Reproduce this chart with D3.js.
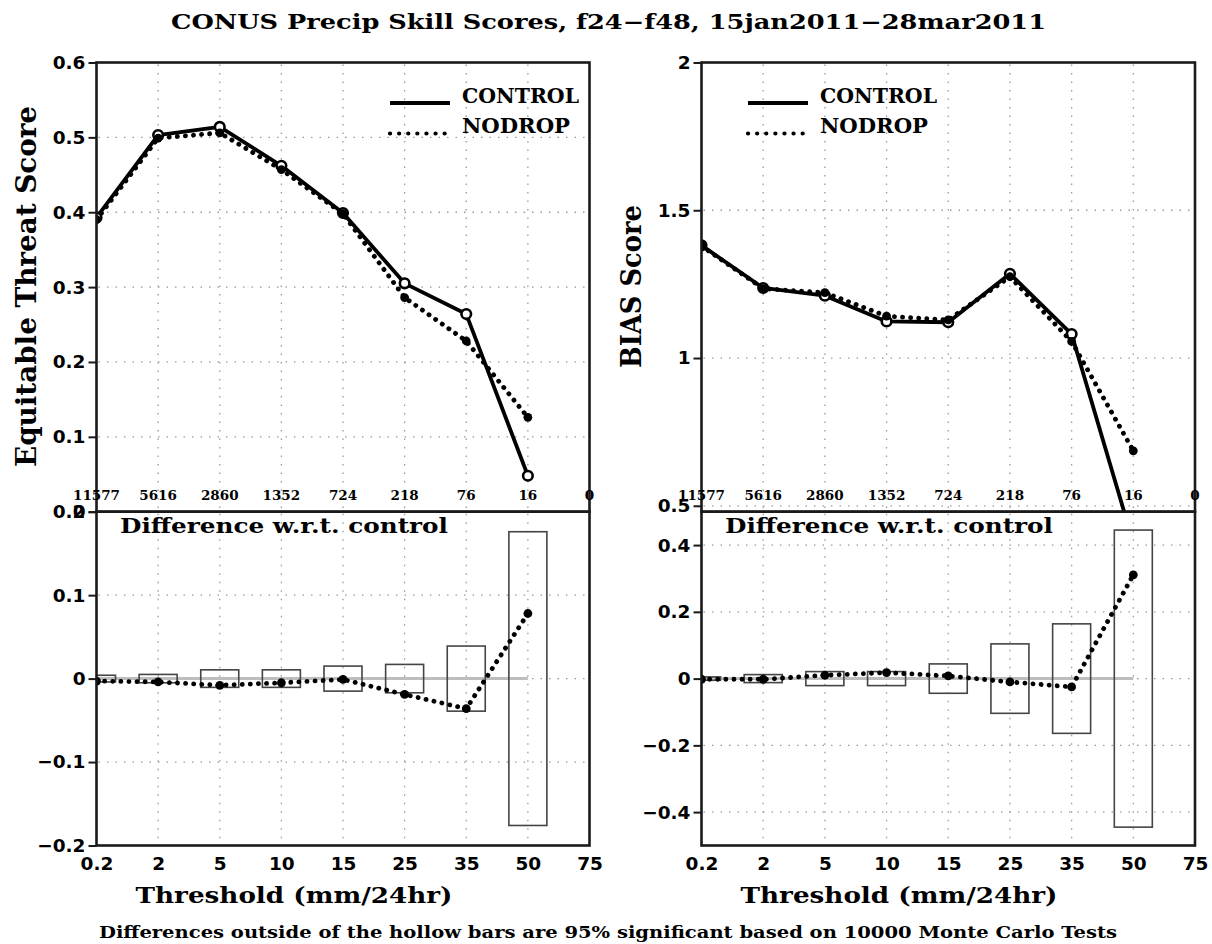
<!DOCTYPE html>
<html>
<head>
<meta charset="utf-8">
<script src="https://cdn.jsdelivr.net/npm/d3@7"></script>
<style>
body { margin: 0; background: #fff; }
svg { display: block; }
</style>
</head>
<body>
<div id="chart"></div>
<script>
const width = 1212;
const height = 944;

// thresholds (mm/24hr) and number of observed points at each one
const thresholds = ["0.2", "2", "5", "10", "15", "25", "35", "50", "75"];
const counts = ["11577", "5616", "2860", "1352", "724", "218", "76", "16", "0"];

// Equitable threat score
const etsControl = [0.393, 0.503, 0.514, 0.462, 0.399, 0.305, 0.264, 0.048];
const etsNodrop = [0.390, 0.499, 0.506, 0.457, 0.398, 0.286, 0.228, 0.126];
const etsDiff = [-0.003, -0.004, -0.008, -0.005, -0.001, -0.019, -0.036, 0.078];
const etsBar = [0.004, 0.005, 0.0105, 0.0105, 0.015, 0.017, 0.039, 0.176];

// Bias score
const biasControl = [1.381, 1.237, 1.211, 1.124, 1.121, 1.285, 1.081, 0.375];
const biasNodrop = [1.379, 1.235, 1.221, 1.142, 1.129, 1.275, 1.056, 0.686];
const biasDiff = [-0.002, -0.002, 0.010, 0.018, 0.008, -0.010, -0.025, 0.311];
const biasBar = [0.005, 0.012, 0.021, 0.021, 0.044, 0.104, 0.164, 0.445];

const etsTopTicks = [0.6, 0.5, 0.4, 0.3, 0.2, 0.1, 0];
const etsBotTicks = [0.2, 0.1, 0, -0.1, -0.2];
const biasTopTicks = [2, 1.5, 1, 0.5];
const biasBotTicks = [0.4, 0.2, 0, -0.2, -0.4];

const seriesNames = ["CONTROL", "NODROP"];

const serif = "'DejaVu Serif', serif";
const sans = "'DejaVu Sans', sans-serif";

const topY0 = 62.5, topY1 = 511.7, botY1 = 845.5;

const svg = d3.select("#chart").append("svg")
    .attr("width", width)
    .attr("height", height);

const fmt = d => d === 0 ? "0" : String(d).replace("-", "\u2212");

function drawPanels(p) {
    const x = d3.scalePoint().domain(thresholds).range([p.x0, p.x1]);
    const yTop = d3.scaleLinear().domain(p.topDomain).range([topY1, topY0]);
    const yBot = d3.scaleLinear().domain(p.botDomain).range([botY1, topY1]);
    const xi = (d, i) => x(thresholds[i]);

    const g = svg.append("g");

    // clip paths for both panels
    const defs = svg.append("defs");
    defs.append("clipPath").attr("id", p.id + "Top")
        .append("rect").attr("x", p.x0).attr("y", topY0).attr("width", p.x1 - p.x0).attr("height", topY1 - topY0);
    defs.append("clipPath").attr("id", p.id + "Bot")
        .append("rect").attr("x", p.x0).attr("y", topY1).attr("width", p.x1 - p.x0).attr("height", botY1 - topY1);

    // grid
    const grid = g.append("g")
        .attr("stroke", "#9a9a9a")
        .attr("stroke-width", 1.3)
        .attr("stroke-dasharray", "1.5,7");
    const inner = thresholds.slice(1, -1);
    grid.selectAll(".vt").data(inner).enter().append("line")
        .attr("x1", d => x(d)).attr("x2", d => x(d))
        .attr("y1", topY0 + 2).attr("y2", topY1 - 2);
    grid.selectAll(".vb").data(inner).enter().append("line")
        .attr("x1", d => x(d)).attr("x2", d => x(d))
        .attr("y1", topY1 + 2).attr("y2", botY1 - 2);
    grid.selectAll(".ht").data(p.topTicks.filter(t => yTop(t) > topY0 + 2 && yTop(t) < topY1 - 2)).enter().append("line")
        .attr("x1", p.x0 + 2).attr("x2", p.x1 - 2)
        .attr("y1", d => yTop(d)).attr("y2", d => yTop(d));
    grid.selectAll(".hb").data(p.botTicks.filter(t => yBot(t) > topY1 + 2 && yBot(t) < botY1 - 2)).enter().append("line")
        .attr("x1", p.x0 + 2).attr("x2", p.x1 - 2)
        .attr("y1", d => yBot(d)).attr("y2", d => yBot(d));

    // top panel lines
    const top = g.append("g").attr("clip-path", `url(#${p.id}Top)`);
    const line = d3.line().x(xi).y(d => yTop(d));

    top.append("path")
        .attr("d", line(p.control))
        .attr("fill", "none")
        .attr("stroke", "#000")
        .attr("stroke-width", 3.8)
        .attr("stroke-linejoin", "round");
    top.selectAll(".oc").data(p.control).enter().append("circle")
        .attr("cx", xi).attr("cy", d => yTop(d))
        .attr("r", 4.8)
        .attr("fill", "#fff")
        .attr("stroke", "#000")
        .attr("stroke-width", 2.6);
    top.append("path")
        .attr("d", line(p.nodrop))
        .attr("fill", "none")
        .attr("stroke", "#000")
        .attr("stroke-width", 4.8)
        .attr("stroke-linecap", "round")
        .attr("stroke-dasharray", "0.1,8");
    top.selectAll(".fc").data(p.nodrop).enter().append("circle")
        .attr("cx", xi).attr("cy", d => yTop(d))
        .attr("r", 4.4)
        .attr("fill", "#000");

    // bottom panel: zero line, hollow bars, difference
    const bot = g.append("g").attr("clip-path", `url(#${p.id}Bot)`);
    const barW = 38;
    bot.append("line")
        .attr("x1", x(thresholds[0])).attr("x2", x(thresholds[7]))
        .attr("y1", yBot(0)).attr("y2", yBot(0))
        .attr("stroke", "#bdbdbd")
        .attr("stroke-width", 3);
    bot.selectAll(".bar").data(p.bars).enter().append("rect")
        .attr("x", (d, i) => xi(d, i) - barW / 2)
        .attr("y", d => yBot(d))
        .attr("width", barW)
        .attr("height", d => yBot(-d) - yBot(d))
        .attr("fill", "none")
        .attr("stroke", "#444")
        .attr("stroke-width", 1.6);
    bot.append("path")
        .attr("d", d3.line().x(xi).y(d => yBot(d))(p.diff))
        .attr("fill", "none")
        .attr("stroke", "#000")
        .attr("stroke-width", 4.8)
        .attr("stroke-linecap", "round")
        .attr("stroke-dasharray", "0.1,8");
    bot.selectAll(".dc").data(p.diff).enter().append("circle")
        .attr("cx", xi).attr("cy", d => yBot(d))
        .attr("r", 4.4)
        .attr("fill", "#000");

    // frames
    [[topY0, topY1], [topY1, botY1]].forEach(([a, b]) => {
        g.append("rect")
            .attr("x", p.x0).attr("y", a)
            .attr("width", p.x1 - p.x0).attr("height", b - a)
            .attr("fill", "none")
            .attr("stroke", "#1a1a1a")
            .attr("stroke-width", 2.6);
    });

    // y axes
    const styleAxis = sel => {
        sel.select(".domain").remove();
        sel.attr("font-family", sans).attr("font-size", 18.5).attr("font-weight", "bold");
        sel.selectAll("line").attr("stroke", "#1a1a1a").attr("stroke-width", 2);
    };
    g.append("g")
        .attr("transform", `translate(${p.x0},0)`)
        .call(d3.axisLeft(yTop).tickValues(p.topTicks).tickSize(8).tickPadding(3).tickFormat(fmt))
        .call(styleAxis);
    g.append("g")
        .attr("transform", `translate(${p.x0},0)`)
        .call(d3.axisLeft(yBot).tickValues(p.botTicks).tickSize(8).tickPadding(3).tickFormat(fmt))
        .call(styleAxis);

    // x axis
    g.append("g")
        .attr("transform", `translate(0,${botY1})`)
        .call(d3.axisBottom(x).tickSize(0).tickPadding(11))
        .call(styleAxis);

    // counts
    g.selectAll(".cnt").data(counts).enter().append("text")
        .attr("x", (d, i) => x(thresholds[i]))
        .attr("y", 500)
        .attr("text-anchor", "middle")
        .attr("font-family", serif)
        .attr("font-weight", "bold")
        .attr("font-size", 13.5)
        .text(d => d);

    // legend
    const leg = g.append("g");
    seriesNames.forEach((name, i) => {
        const ly = 103 + i * 30.5;
        leg.append("line")
            .attr("x1", p.legX).attr("x2", p.legX + (i === 0 ? 60 : 56))
            .attr("y1", ly).attr("y2", ly)
            .attr("stroke", "#000")
            .attr("stroke-width", 4.2)
            .attr("stroke-linecap", i === 0 ? "butt" : "round")
            .attr("stroke-dasharray", i === 0 ? null : "0.1,9");
        leg.append("text")
            .attr("x", p.legX + 72)
            .attr("y", ly - 0.5)
            .attr("font-family", serif)
            .attr("font-weight", "bold")
            .attr("font-size", 21)
            .attr("textLength", i === 0 ? 117 : 108)
            .attr("lengthAdjust", "spacingAndGlyphs")
            .text(name);
    });

    g.append("text")
        .attr("x", p.x0 + 23.5)
        .attr("y", 533.3)
        .attr("font-family", serif)
        .attr("font-weight", "bold")
        .attr("font-size", 20)
        .attr("textLength", 328)
        .attr("lengthAdjust", "spacingAndGlyphs")
        .text("Difference w.r.t. control");

    // axis titles
    g.append("text")
        .attr("transform", `translate(${p.yTitleX},286.5) rotate(-90)`)
        .attr("text-anchor", "middle")
        .attr("font-family", serif)
        .attr("font-weight", "bold")
        .attr("font-size", 27)
        .attr("textLength", p.yTitleLen)
        .attr("lengthAdjust", "spacingAndGlyphs")
        .text(p.yTitle);

    g.append("text")
        .attr("x", p.x0 + 197.5)
        .attr("y", 903.3)
        .attr("text-anchor", "middle")
        .attr("font-family", serif)
        .attr("font-weight", "bold")
        .attr("font-size", 23)
        .attr("textLength", 317)
        .attr("lengthAdjust", "spacingAndGlyphs")
        .text("Threshold (mm/24hr)");
}

drawPanels({
    id: "ets", x0: 96.5, x1: 589.5,
    topDomain: [0, 0.6], botDomain: [-0.2, 0.2],
    topTicks: etsTopTicks, botTicks: etsBotTicks,
    control: etsControl, nodrop: etsNodrop, diff: etsDiff, bars: etsBar,
    legX: 390, yTitle: "Equitable Threat Score", yTitleX: 36, yTitleLen: 361
});

drawPanels({
    id: "bias", x0: 701.5, x1: 1195,
    topDomain: [0.48, 2], botDomain: [-0.5, 0.5],
    topTicks: biasTopTicks, botTicks: biasBotTicks,
    control: biasControl, nodrop: biasNodrop, diff: biasDiff, bars: biasBar,
    legX: 748, yTitle: "BIAS Score", yTitleX: 641, yTitleLen: 163
});

svg.append("text")
    .attr("x", 608.5)
    .attr("y", 29.3)
    .attr("text-anchor", "middle")
    .attr("font-family", serif)
    .attr("font-weight", "bold")
    .attr("font-size", 19.5)
    .attr("textLength", 875)
    .attr("lengthAdjust", "spacingAndGlyphs")
    .text("CONUS Precip Skill Scores, f24\u2212f48, 15jan2011\u221228mar2011");

svg.append("text")
    .attr("x", 608)
    .attr("y", 937.5)
    .attr("text-anchor", "middle")
    .attr("font-family", serif)
    .attr("font-weight", "bold")
    .attr("font-size", 16)
    .attr("textLength", 1018)
    .attr("lengthAdjust", "spacingAndGlyphs")
    .text("Differences outside of the hollow bars are 95% significant based on 10000 Monte Carlo Tests");
</script>
</body>
</html>
